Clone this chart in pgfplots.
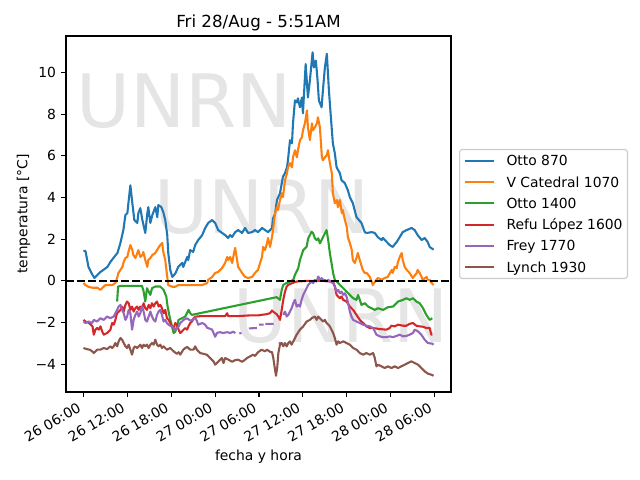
\documentclass[border=0pt]{standalone}
\usepackage{fontspec}
\setmainfont{DejaVu Sans}
\usepackage{pgfplots}
\pgfplotsset{compat=1.18}
\definecolor{c0}{HTML}{1F77B4}
\definecolor{c1}{HTML}{FF7F0E}
\definecolor{c2}{HTML}{2CA02C}
\definecolor{c3}{HTML}{D62728}
\definecolor{c4}{HTML}{9467BD}
\definecolor{c5}{HTML}{8C564B}
\begin{document}
\begin{tikzpicture}[font=\fontsize{10bp}{12bp}\selectfont]
\path[use as bounding box] (0,0) rectangle (460.8bp,345.6bp);
\begin{axis}[
  at={(47.52bp,63.36bp)}, anchor=south west,
  scale only axis, width=277.2bp, height=256.32bp,
  xmin=3.61, xmax=56.24, ymin=-5.33, ymax=11.75,
  xtick={6,12,...,54},
  xticklabels={26 06:00,26 12:00,26 18:00,27 00:00,27 06:00,27 12:00,27 18:00,28 00:00,28 06:00},
  ytick={-4,-2,...,10},
  yticklabels={−4,−2,0,2,4,6,8,10},
  tick align=outside, xtick pos=lower, ytick pos=left,
  major tick length=3.5bp,
  every tick/.style={black, line width=0.8bp},
  axis line style={line width=0.8bp},
  xticklabel style={xshift=-4.8bp, yshift=-3.5bp, rotate=30, anchor=north east, inner sep=0pt},
  yticklabel style={xshift=-3.5bp, anchor=east, inner sep=0pt},
  title={Fri 28/Aug - 5:51AM},
  every axis title/.style={at={(axis description cs:0.5,1.0233)}, anchor=base, inner sep=0pt, font=\fontsize{12bp}{14bp}\selectfont},
  xlabel={fecha y hora},
  every axis x label/.style={at={(axis description cs:0.5,-0.1927)}, anchor=base, inner sep=0pt},
  ylabel={temperatura [°C]},
  every axis y label/.style={at={(axis description cs:-0.1,0.5)}, rotate=90, anchor=base, inner sep=0pt},
  unbounded coords=jump,
  every axis plot/.append style={line width=1.5bp, line join=round},
  legend style={at={(axis description cs:1.0208,0.5)}, anchor=west, draw=black!20, line width=0.8bp, fill=white, rounded corners=2bp, inner xsep=3.5bp, inner ysep=3.9bp, row sep=6.47bp, font=\fontsize{10bp}{12bp}\selectfont, nodes={inner sep=0pt, text height=8bp, text depth=0.8bp}, /tikz/every odd column/.style={column sep=7.9bp}},
  legend cell align=left,
  legend image code/.code={\draw[#1, line width=1.5bp, sharp corners] (0bp,0bp) -- (20.9bp,0bp);},
]
\node[anchor=base west, inner sep=0pt, text=black!10, font=\fontsize{53bp}{60bp}\selectfont] at (rel axis cs:0.0265,0.7416) {UNRN};
\node[anchor=base west, inner sep=0pt, text=black!10, font=\fontsize{53bp}{60bp}\selectfont] at (rel axis cs:0.230,0.444) {UNRN};
\node[anchor=base west, inner sep=0pt, text=black!10, font=\fontsize{53bp}{60bp}\selectfont] at (rel axis cs:0.434,0.140) {UNRN};

\addplot[c0] coordinates {
(6.0,1.44)(6.27,1.44)(6.68,0.67)(7.23,0.29)(7.50,0.14)(7.91,0.29)(8.32,0.43)(8.73,0.53)(9.27,0.67)(9.68,0.91)(10.09,1.10)(10.64,1.34)(11.05,1.82)(11.45,2.44)(11.73,3.16)(12.0,3.25)(12.14,3.73)(12.41,4.59)(12.68,3.73)(12.95,2.92)(13.36,2.78)(13.5,3.25)(13.77,3.49)(14.05,2.92)(14.45,2.30)(14.73,3.25)(14.86,3.54)(15.14,2.78)(15.41,3.16)(15.82,3.54)(16.09,3.06)(16.23,3.64)(16.64,3.54)(16.91,3.30)(17.18,2.92)(17.45,2.20)(17.59,1.34)(17.86,0.53)(18.14,0.19)(18.55,0.35)(18.95,0.67)(19.50,0.86)(19.64,0.67)(20.18,1.15)(20.32,1.0)(20.59,1.48)(21.0,1.39)(21.27,1.72)(21.68,1.96)(22.23,2.2)(22.64,2.54)(23.05,2.78)(23.59,2.92)(24.0,2.78)(24.41,2.44)(24.95,2.30)(25.36,2.2)(25.77,2.06)(26.05,2.2)(26.32,2.11)(26.73,2.34)(27.14,2.44)(27.68,2.30)(28.09,2.54)(28.5,2.30)(29.05,2.34)(29.45,2.44)(29.86,2.34)(30.41,2.54)(30.82,2.44)(31.23,2.34)(31.77,2.54)(31.91,3.0)(32.18,3.2)(32.45,3.88)(32.86,4.2)(33.27,5.0)(33.55,5.17)(33.82,5.45)(33.95,5.79)(34.23,6.75)(34.5,6.6)(34.64,7.56)(34.91,8.66)(35.18,8.56)(35.32,8.76)(35.59,8.33)(35.86,8.8)(36.0,8.04)(36.37,10.4)(36.68,8.8)(36.95,9.62)(37.32,10.97)(37.5,10.24)(37.77,10.57)(38.0,9.62)(38.18,8.66)(38.55,8.33)(38.73,9.14)(39.0,10.24)(39.27,10.9)(39.55,9.14)(39.78,8.04)(40.09,6.6)(40.36,6.12)(40.6,5.45)(41.05,5.17)(41.27,4.83)(41.73,4.69)(42.14,4.35)(42.41,4.02)(42.82,3.73)(43.32,3.06)(44.0,2.78)(44.45,2.34)(44.73,2.30)(45.41,2.34)(45.82,2.30)(46.23,2.1)(46.77,1.96)(46.91,2.06)(47.45,1.87)(47.86,1.72)(48.27,1.63)(48.82,1.87)(49.23,2.1)(49.64,2.34)(50.18,2.44)(50.86,2.54)(51.27,2.44)(51.68,2.2)(52.23,1.96)(52.64,2.06)(53.05,1.87)(53.32,1.63)(53.73,1.53)(53.86,1.5)
};
\addlegendentry{Otto 870}
\addplot[c1] coordinates {
(6.0,-0.1)(6.27,-0.2)(6.68,-0.28)(7.23,-0.33)(7.91,-0.33)(8.32,-0.43)(8.59,-0.33)(9.0,-0.2)(9.41,-0.2)(9.95,-0.2)(10.36,-0.1)(10.64,0.19)(10.77,0.38)(11.05,0.53)(11.32,0.67)(11.45,0.86)(11.73,1.10)(12.0,1.15)(12.14,1.39)(12.41,1.72)(12.68,1.48)(12.82,1.24)(13.09,1.10)(13.36,1.34)(13.5,1.48)(13.77,1.15)(14.05,1.24)(14.18,1.39)(14.45,1.0)(14.73,0.67)(14.86,1.0)(15.14,1.10)(15.41,1.24)(15.82,1.34)(16.23,1.58)(16.5,1.72)(16.77,1.82)(16.91,1.39)(17.18,1.0)(17.45,0.19)(17.59,-0.2)(18.14,-0.28)(18.55,-0.28)(18.95,-0.2)(19.5,-0.2)(20.32,-0.2)(21.27,-0.2)(22.23,-0.2)(22.91,-0.1)(23.05,0.05)(23.59,0.19)(24.0,0.38)(24.41,0.43)(24.95,0.62)(25.36,0.86)(25.64,1.15)(25.77,1.0)(26.05,1.15)(26.32,0.86)(26.45,1.10)(26.73,1.58)(27.0,1.0)(27.14,0.67)(27.41,0.53)(27.68,0.38)(28.09,0.19)(28.5,0.14)(29.05,0.19)(29.45,0.38)(29.86,0.53)(30.14,0.86)(30.41,1.15)(30.55,1.63)(30.82,1.48)(31.09,1.82)(31.23,2.06)(31.5,1.63)(31.77,2.1)(31.91,2.44)(32.18,3.25)(32.45,3.54)(32.59,3.4)(32.86,3.88)(33.14,4.21)(33.27,4.02)(33.55,4.83)(33.82,5.17)(33.95,5.45)(34.23,5.65)(34.5,5.45)(34.64,5.93)(34.91,6.27)(35.18,5.93)(35.32,6.27)(35.59,6.75)(35.86,6.89)(36.0,7.22)(36.27,7.56)(36.55,8.18)(36.68,7.37)(36.95,6.75)(37.23,7.56)(37.36,7.22)(37.64,7.37)(37.91,7.56)(38.05,7.85)(38.32,7.37)(38.59,5.93)(38.73,5.79)(39.0,5.93)(39.27,6.03)(39.41,6.27)(39.68,5.65)(39.95,5.17)(40.09,4.21)(40.36,3.73)(40.64,3.88)(40.77,3.54)(41.05,3.88)(41.32,3.25)(41.45,3.4)(41.73,2.92)(42.0,2.58)(42.14,2.1)(42.41,1.82)(42.68,1.48)(42.82,1.0)(43.09,0.86)(43.36,1.15)(43.5,1.34)(43.77,1.0)(44.05,0.67)(44.18,0.53)(44.45,0.38)(44.73,0.38)(45.14,0.19)(45.41,-0.05)(45.55,-0.2)(45.82,-0.05)(46.23,0.14)(46.77,0.05)(47.18,0.14)(47.59,0.19)(48.14,0.53)(48.27,0.38)(48.55,0.67)(48.82,0.62)(48.95,0.86)(49.23,1.15)(49.5,1.34)(49.64,1.0)(49.91,0.67)(50.18,0.53)(50.59,0.38)(51.0,0.14)(51.55,0.38)(51.68,0.53)(51.95,0.38)(52.23,0.19)(52.36,0.05)(52.91,0.19)(53.05,0.05)(53.32,0.05)(53.59,-0.1)(53.86,-0.2)
};
\addlegendentry{V Catedral 1070}
\addplot[c2] coordinates {
(10.6,-0.99)(10.73,-0.27)(11.05,-0.24)(12.0,-0.24)(13.0,-0.24)(14.0,-0.24)(14.22,-0.5)(14.45,-0.99)(14.68,-0.35)(15.14,-0.67)(15.37,-0.35)(15.82,-0.27)(16.5,-0.27)(16.95,-0.43)(17.32,-0.75)(17.5,-1.23)(17.77,-1.71)(18.1,-2.19)(18.32,-2.5)(18.55,-2.43)(18.78,-2.19)(19.0,-1.87)(19.46,-1.79)(19.91,-1.71)(20.36,-1.39)(20.59,-1.55)(20.82,-1.63)(32.41,-0.78)(32.86,-0.91)(33.1,-0.43)(33.31,-0.19)(33.78,-0.1)(34.23,-0.03)(34.68,0.05)(34.91,0.29)(35.14,0.45)(35.36,0.61)(35.59,1.0)(35.82,1.24)(36.04,1.48)(36.5,1.64)(36.72,2.04)(36.95,2.2)(37.19,2.36)(37.4,2.28)(37.64,2.04)(37.87,1.96)(38.09,2.04)(38.32,1.8)(38.55,1.96)(38.77,2.12)(39.0,2.28)(39.23,2.44)(39.45,1.96)(39.68,1.33)(39.91,0.85)(40.13,0.37)(40.36,0.05)(40.6,-0.03)(41.05,-0.19)(41.5,-0.35)(41.96,-0.51)(42.41,-0.67)(42.86,-0.83)(43.32,-0.91)(43.54,-0.67)(43.77,-0.91)(44.0,-1.15)(44.45,-1.07)(44.9,-1.23)(45.37,-1.31)(45.82,-1.39)(46.27,-1.31)(46.95,-1.39)(47.63,-1.26)(48.31,-1.23)(49.0,-0.99)(49.68,-0.91)(50.14,-0.83)(50.59,-0.91)(51.04,-0.83)(51.5,-0.99)(51.95,-1.07)(52.41,-1.31)(52.87,-1.63)(53.32,-1.87)(53.68,-1.79)
};
\addlegendentry{Otto 1400}
\addplot[c3] coordinates {
(6.0,-1.87)(6.27,-1.95)(6.77,-2.02)(7.23,-2.18)(7.41,-2.58)(7.64,-2.34)(7.87,-2.26)(8.09,-2.34)(8.32,-2.18)(8.55,-2.42)(8.77,-2.58)(9.23,-2.5)(9.68,-2.34)(9.91,-2.02)(10.14,-2.1)(10.36,-1.87)(10.59,-1.55)(10.82,-1.47)(11.05,-1.39)(11.27,-1.23)(11.5,-1.47)(11.73,-1.15)(11.95,-0.99)(12.18,-1.07)(12.41,-1.39)(12.64,-1.23)(12.86,-1.47)(13.09,-1.31)(13.32,-1.23)(13.55,-1.39)(13.77,-1.23)(14.0,-1.31)(14.22,-1.07)(14.45,-1.31)(14.68,-1.39)(14.91,-1.15)(15.14,-1.31)(15.36,-1.07)(15.59,-1.23)(15.82,-1.07)(16.05,-0.99)(16.27,-1.23)(16.5,-1.15)(16.73,-1.31)(16.95,-1.55)(17.18,-1.39)(17.41,-1.79)(17.64,-1.87)(17.86,-2.02)(18.09,-2.18)(18.32,-2.26)(18.55,-2.02)(18.77,-2.1)(19.0,-2.34)(19.23,-2.5)(19.46,-2.42)(19.68,-2.34)(19.91,-2.26)(20.14,-2.34)(20.36,-2.18)(20.59,-2.02)(20.82,-1.95)(21.05,-1.79)(21.27,-1.71)(21.5,-1.71)(22.0,-1.69)(23.0,-1.69)(24.0,-1.69)(25.36,-1.69)(25.64,-1.55)(25.77,-1.69)(27.0,-1.69)(28.0,-1.67)(29.0,-1.65)(30.0,-1.65)(30.5,-1.62)(31.0,-1.6)(31.5,-1.55)(31.77,-1.42)(31.91,-1.47)(32.41,-1.6)(32.64,-1.71)(32.86,-1.87)(33.1,-1.39)(33.31,-0.91)(33.55,-0.51)(33.78,-0.27)(34.0,-0.19)(34.5,-0.11)(35.14,-0.03)(36.5,0.0)(38.77,0.0)(40.13,-0.03)(40.36,-0.27)(40.6,-0.67)(40.82,-0.75)(41.05,-0.83)(41.27,-0.75)(41.5,-0.91)(41.96,-0.99)(42.41,-1.23)(42.86,-1.39)(43.32,-1.63)(43.77,-1.87)(44.22,-2.02)(44.68,-2.18)(45.14,-2.26)(45.59,-2.26)(46.5,-2.31)(47.41,-2.34)(47.86,-2.26)(48.09,-2.15)(48.55,-2.18)(49.0,-2.1)(49.68,-2.15)(50.14,-2.15)(50.59,-2.06)(51.04,-2.02)(51.5,-2.15)(51.95,-2.18)(52.41,-2.2)(52.87,-2.26)(53.32,-2.26)(53.55,-2.58)(53.68,-2.58)
};
\addlegendentry{Refu López 1600}
\addplot[c4] coordinates {
(6.0,-1.95)(6.27,-2.02)(6.72,-1.95)(7.19,-2.02)(7.4,-1.87)(7.87,-1.95)(8.32,-1.79)(8.77,-1.87)(9.23,-1.71)(9.68,-1.79)(10.13,-1.71)(10.36,-1.55)(10.6,-1.39)(10.81,-1.23)(11.05,-1.15)(11.28,-1.39)(11.5,-1.55)(11.73,-1.87)(11.96,-1.71)(12.18,-1.39)(12.41,-1.55)(12.64,-2.34)(12.86,-1.87)(13.09,-1.63)(13.32,-1.47)(13.55,-1.71)(13.77,-1.55)(14.0,-1.23)(14.22,-1.47)(14.45,-1.87)(14.68,-1.95)(14.91,-1.71)(15.14,-1.47)(15.37,-1.71)(15.59,-1.87)(15.82,-1.95)(16.05,-1.63)(16.27,-1.47)(16.5,-1.39)(16.73,-1.63)(16.95,-1.95)(17.18,-1.87)(17.41,-2.02)(17.64,-2.1)(17.86,-2.15)(18.09,-2.19)(18.32,-2.26)(18.55,-2.34)(18.78,-2.26)(19.0,-2.19)(19.23,-2.02)(19.46,-1.95)(19.68,-1.87)(20.14,-1.79)(20.59,-1.9)(21.0,-1.87)(21.27,-1.75)(21.55,-1.96)(21.68,-2.1)(22.23,-2.02)(22.64,-2.1)(22.91,-2.25)(23.32,-2.3)(23.59,-2.34)(24.0,-2.68)(24.27,-2.49)(24.68,-2.46)(25.09,-2.5)(25.64,-2.46)(26.05,-2.5)(26.45,-2.44)(26.77,-2.5)(27.0,nan)(27.3,-2.52)(27.6,-2.5)(27.9,nan)(28.6,-2.28)(29.7,-2.26)(29.8,nan)(29.96,-2.1)(30.64,-2.1)(30.75,nan)(30.86,-2.06)(32.0,-2.06)(32.3,nan)(32.69,-2.98)(33.14,-3.0)(33.2,nan)(33.31,-1.63)(33.55,-1.47)(33.78,-1.71)(34.0,-1.63)(34.23,-1.47)(34.45,-1.31)(34.68,-1.07)(34.91,-0.91)(35.14,-1.23)(35.36,-1.15)(35.59,-1.23)(35.82,-0.91)(36.04,-0.67)(36.27,-0.51)(36.5,-0.35)(36.72,-0.19)(36.95,-0.11)(37.19,-0.03)(37.4,-0.11)(37.64,0.05)(37.87,-0.03)(38.09,0.21)(38.32,0.05)(38.55,0.13)(38.77,0.05)(39.0,0.05)(39.23,-0.03)(39.45,0.05)(39.68,-0.03)(40.13,-0.11)(40.36,-0.27)(40.6,-0.51)(40.82,-0.43)(41.05,-0.59)(41.27,-0.51)(41.5,-0.67)(41.73,-0.59)(41.96,-0.75)(42.18,-1.07)(42.41,-1.47)(42.64,-1.71)(42.86,-1.87)(43.32,-1.95)(43.77,-2.02)(44.22,-2.1)(44.68,-2.15)(45.14,-2.18)(45.59,-2.26)(45.82,-2.42)(46.05,-2.58)(46.5,-2.66)(46.95,-2.7)(47.41,-2.7)(47.86,-2.66)(48.31,-2.7)(48.77,-2.64)(49.23,-2.58)(49.68,-2.66)(50.14,-2.64)(50.59,-2.58)(51.04,-2.5)(51.27,-2.34)(51.73,-2.42)(52.18,-2.58)(52.64,-2.82)(53.09,-2.98)(53.68,-3.01)(53.86,-3.06)
};
\addlegendentry{Frey 1770}
\addplot[c5] coordinates {
(6.0,-3.22)(6.41,-3.27)(6.86,-3.3)(7.19,-3.38)(7.4,-3.46)(7.64,-3.38)(7.87,-3.3)(8.32,-3.3)(8.77,-3.22)(9.23,-3.27)(9.68,-3.14)(9.91,-3.22)(10.13,-3.14)(10.36,-2.98)(10.6,-3.14)(10.81,-2.9)(11.05,-2.74)(11.28,-2.82)(11.5,-2.98)(11.73,-3.14)(11.96,-3.22)(12.18,-3.06)(12.41,-3.3)(12.64,-3.54)(12.86,-3.22)(13.09,-3.14)(13.32,-3.22)(13.77,-3.06)(14.0,-3.22)(14.22,-3.06)(14.45,-3.14)(14.68,-3.06)(14.91,-3.22)(15.14,-3.06)(15.37,-2.98)(15.59,-3.06)(15.82,-2.82)(16.05,-3.06)(16.27,-3.14)(16.5,-3.06)(16.73,-3.22)(16.95,-3.14)(17.41,-3.3)(17.86,-3.22)(18.32,-3.38)(18.77,-3.5)(19.0,-3.42)(19.23,-3.54)(19.64,-3.3)(19.91,-3.22)(20.18,-3.17)(20.59,-3.3)(21.05,-3.3)(21.27,-3.14)(21.5,-3.3)(21.96,-3.46)(22.41,-3.5)(22.86,-3.54)(23.32,-3.7)(23.77,-3.86)(24.0,-4.02)(24.22,-3.94)(24.45,-3.86)(24.68,-3.78)(24.91,-3.7)(25.14,-3.94)(25.36,-3.7)(25.82,-3.78)(26.32,-3.88)(26.73,-3.8)(27.14,-3.78)(27.68,-3.88)(28.09,-3.78)(28.36,-3.7)(28.77,-3.62)(29.18,-3.54)(29.45,-3.6)(29.86,-3.42)(30.36,-3.3)(30.82,-3.38)(31.09,-3.3)(31.5,-3.4)(31.77,-3.42)(31.95,-3.7)(32.18,-4.26)(32.32,-4.55)(32.5,-4.1)(32.64,-3.46)(32.86,-3.06)(33.1,-2.98)(33.31,-3.14)(33.55,-2.98)(33.78,-3.14)(34.0,-2.98)(34.23,-2.9)(34.45,-3.06)(34.68,-2.9)(35.14,-2.58)(35.59,-2.34)(36.04,-2.18)(36.5,-1.95)(36.95,-1.87)(37.19,-1.79)(37.64,-1.71)(37.87,-1.87)(38.09,-1.71)(38.32,-1.79)(38.77,-1.95)(39.0,-1.87)(39.23,-2.02)(39.68,-2.18)(40.13,-2.5)(40.36,-2.74)(40.6,-3.06)(40.82,-2.9)(41.05,-2.98)(41.5,-2.9)(41.96,-2.98)(42.41,-3.06)(42.86,-3.22)(43.32,-3.3)(43.77,-3.46)(44.22,-3.54)(44.68,-3.46)(45.14,-3.54)(45.59,-3.46)(45.82,-3.7)(46.05,-4.1)(46.27,-4.02)(46.73,-4.1)(47.18,-4.18)(47.63,-4.1)(48.09,-4.18)(48.55,-4.1)(49.0,-4.18)(49.45,-4.1)(49.91,-4.02)(50.36,-3.94)(50.82,-3.86)(51.27,-3.94)(51.73,-4.02)(52.18,-4.18)(52.64,-4.34)(53.09,-4.45)(53.55,-4.5)(53.86,-4.55)
};
\addlegendentry{Lynch 1930}
\addplot[black, line width=1.5bp, dash pattern=on 5.55bp off 2.4bp, forget plot] coordinates {(3.61,0)(56.24,0)};
\end{axis}
\end{tikzpicture}
\end{document}
